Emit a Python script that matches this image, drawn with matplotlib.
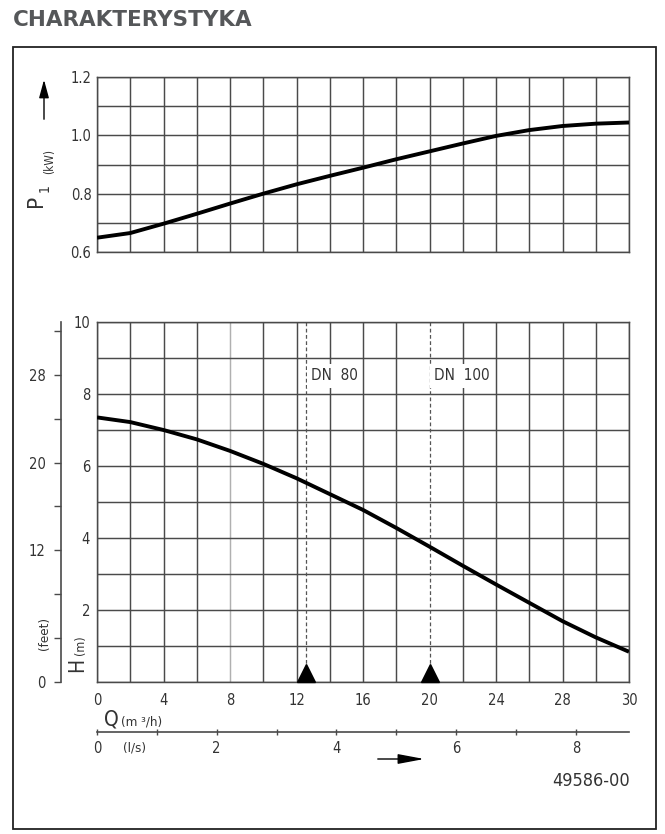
import numpy as np
import matplotlib
matplotlib.use("Agg")
import matplotlib.pyplot as plt
from matplotlib.patches import Rectangle, FancyArrowPatch
from matplotlib.transforms import ScaledTranslation

# ---------------- data ----------------
q_m3h = [0, 2, 4, 6, 8, 10, 12, 14, 16, 18, 20, 22, 24, 26, 28, 30, 32]
p1_kw = [0.649, 0.665, 0.697, 0.731, 0.766, 0.800, 0.832, 0.861, 0.889,
         0.918, 0.945, 0.972, 0.998, 1.018, 1.032, 1.040, 1.044]
head_m = [7.35, 7.22, 7.00, 6.74, 6.42, 6.06, 5.66, 5.22, 4.78,
          4.28, 3.76, 3.23, 2.71, 2.20, 1.69, 1.24, 0.84]

q_tick_pos = [0, 4, 8, 12, 16, 20, 24, 28, 32]
q_tick_labels = ["0", "4", "8", "12", "16", "20", "24", "28", "30"]
p_ticks = [0.6, 0.8, 1.0, 1.2]
p_tick_labels = ["0.6", "0.8", "1.0", "1.2"]
h_ticks = [2, 4, 6, 8, 10]
feet_labeled = [0, 12, 20, 28]
feet_unlabeled = [4, 8, 16, 24, 32]
ls_labeled = [0, 2, 4, 6, 8]
ls_unlabeled = [1, 3, 5, 7]
dn_names = ["DN  80", "DN  100"]
dn_q = [12.6, 20.0]
light_grid_q = [8]
title = "CHARAKTERYSTYKA"
drawing_no = "49586-00"

# ---------------- figure ----------------
W, H = 665, 834
fig = plt.figure(figsize=(W / 100, H / 100), dpi=100)
fig.patch.set_facecolor("white")

def fx(px):
    return px / W

def fy(py):
    return 1 - py / H

GRID = "#4a4a4a"
TXT = "#333333"
FONT = dict(family="DejaVu Sans", stretch="condensed")
TS = 10.5

ax_p = fig.add_axes([fx(97), fy(252), 532 / W, 175 / H])
ax_h = fig.add_axes([fx(97), fy(682), 532 / W, 360 / H])

# ----- top panel: P1 -----
ax_p.set_xlim(0, 32)
ax_p.set_ylim(0.6, 1.2)
for q in np.arange(0, 33, 2):
    ax_p.axvline(q, color=GRID, lw=1.05, zorder=1)
for p in np.arange(0.6, 1.201, 0.1):
    ax_p.axhline(p, color=GRID, lw=1.05, zorder=1)
ax_p.plot(q_m3h, p1_kw, color="black", lw=2.8, zorder=5, solid_capstyle="butt",
          solid_joinstyle="round")
ax_p.set_xticks([])
ax_p.set_yticks(p_ticks, p_tick_labels)
ax_p.tick_params(axis="y", length=0, pad=4, labelsize=TS, labelcolor=TXT)
for sp in ax_p.spines.values():
    sp.set_color(GRID)
    sp.set_linewidth(1.05)

# ----- bottom panel: H -----
ax_h.set_xlim(0, 32)
ax_h.set_ylim(0, 10)
for q in np.arange(0, 33, 2):
    if q in dn_q:
        continue
    c = "#b0b0b0" if q in light_grid_q else GRID
    ax_h.axvline(q, color=c, lw=1.05, zorder=1)
for hh in np.arange(0, 10.01, 1):
    ax_h.axhline(hh, color=GRID, lw=1.05, zorder=1)
ax_h.plot(q_m3h, head_m, color="black", lw=2.8, zorder=5, solid_capstyle="butt",
          solid_joinstyle="round")

for name, q in zip(dn_names, dn_q):
    ax_h.axvline(q, color="#555555", lw=0.9, ls=(0, (3, 2)), zorder=2)
    ax_h.text(q + 0.3, 8.5, name, ha="left", va="center", fontsize=TS + 0.5,
              color=TXT, zorder=4, **FONT,
              bbox=dict(facecolor="white", edgecolor="none", pad=3.0))
ax_h.plot(dn_q, [0] * len(dn_q), marker="^", markersize=13, color="black",
          linestyle="none", clip_on=False, zorder=6,
          transform=ax_h.transData + ScaledTranslation(0, 6.5 / 72, fig.dpi_scale_trans))

ax_h.set_xticks(q_tick_pos, q_tick_labels)
ax_h.set_yticks(h_ticks, [str(v) for v in h_ticks])
ax_h.tick_params(axis="x", length=0, pad=8, labelsize=TS, labelcolor=TXT)
ax_h.tick_params(axis="y", length=0, pad=5, labelsize=TS, labelcolor=TXT)
for sp in ax_h.spines.values():
    sp.set_color(GRID)
    sp.set_linewidth(1.05)

for ax in (ax_p, ax_h):
    for lab in ax.get_xticklabels() + ax.get_yticklabels():
        lab.set_fontfamily("DejaVu Sans")
        lab.set_fontstretch("condensed")

# ----- feet axis -----
secy = ax_h.secondary_yaxis(-36 / 532, functions=(lambda m: np.asarray(m) * 3.2808,
                                                   lambda f: np.asarray(f) / 3.2808))
secy.set_yticks(feet_labeled, [str(v) for v in feet_labeled])
secy.set_yticks(feet_unlabeled, minor=True)
secy.tick_params(which="both", direction="out", length=5, width=1.0, color=GRID,
                 pad=6, labelsize=TS, labelcolor=TXT)
secy.spines["left"].set_color(GRID)
secy.spines["left"].set_linewidth(1.2)
for lab in secy.get_yticklabels():
    lab.set_fontfamily("DejaVu Sans")
    lab.set_fontstretch("condensed")

# ----- l/s axis -----
secx = ax_h.secondary_xaxis(-50 / 360, functions=(lambda q: np.asarray(q) / 3.6,
                                                   lambda l: np.asarray(l) * 3.6))
secx.set_xticks(ls_labeled, [str(v) for v in ls_labeled])
secx.set_xticks(ls_unlabeled, minor=True)
secx.tick_params(which="both", direction="inout", length=5, width=1.0, color=GRID,
                 pad=4, labelsize=TS, labelcolor=TXT)
secx.spines["bottom"].set_color(GRID)
secx.spines["bottom"].set_linewidth(1.2)
for lab in secx.get_xticklabels():
    lab.set_fontfamily("DejaVu Sans")
    lab.set_fontstretch("condensed")

# ----- axis titles -----
fig.text(fx(36), fy(201), "P", rotation=90, ha="center", va="center",
         fontsize=16, color=TXT, **FONT)
fig.text(fx(45), fy(188), "1", rotation=90, ha="center", va="center",
         fontsize=10, color=TXT, **FONT)
fig.text(fx(50), fy(162), "(kW)", rotation=90, ha="center", va="center",
         fontsize=8.5, color=TXT, **FONT)
fig.add_artist(FancyArrowPatch((fx(44), fy(122)), (fx(44), fy(77)),
                               transform=fig.transFigure, arrowstyle="-|>,head_length=11,head_width=3",
                               mutation_scale=1, color="black", lw=1.0))

fig.text(fx(77), fy(665), "H", rotation=90, ha="center", va="center",
         fontsize=15, color=TXT, **FONT)
fig.text(fx(81), fy(645), "(m)", rotation=90, ha="center", va="center",
         fontsize=9, color=TXT, **FONT)
fig.text(fx(45), fy(633), "(feet)", rotation=90, ha="center", va="center",
         fontsize=9.5, color=TXT, **FONT)

fig.text(fx(104), fy(720), "Q", ha="left", va="center", fontsize=15, color=TXT, **FONT)
fig.text(fx(121), fy(722), "(m ³/h)", ha="left", va="center", fontsize=9.5, color=TXT, **FONT)
fig.text(fx(123), fy(748), "(l/s)", ha="left", va="center", fontsize=9.5, color=TXT, **FONT)
fig.add_artist(FancyArrowPatch((fx(375), fy(759)), (fx(427), fy(759)),
                               transform=fig.transFigure, arrowstyle="-|>,head_length=16,head_width=3",
                               mutation_scale=1, color="black", lw=1.0))
fig.text(fx(630), fy(781), drawing_no, ha="right", va="center", fontsize=13, color=TXT, **FONT)

# ----- title and frame -----
fig.text(fx(13), fy(20), title, ha="left", va="center", fontsize=15.5,
         fontweight="bold", color="#555759", family="DejaVu Sans")
fig.add_artist(Rectangle((fx(13), fy(829)), (656 - 13) / W, (829 - 47) / H,
                         transform=fig.transFigure, fill=False, edgecolor="#222222", lw=1.3))

fig.savefig("out.png", dpi=100)
